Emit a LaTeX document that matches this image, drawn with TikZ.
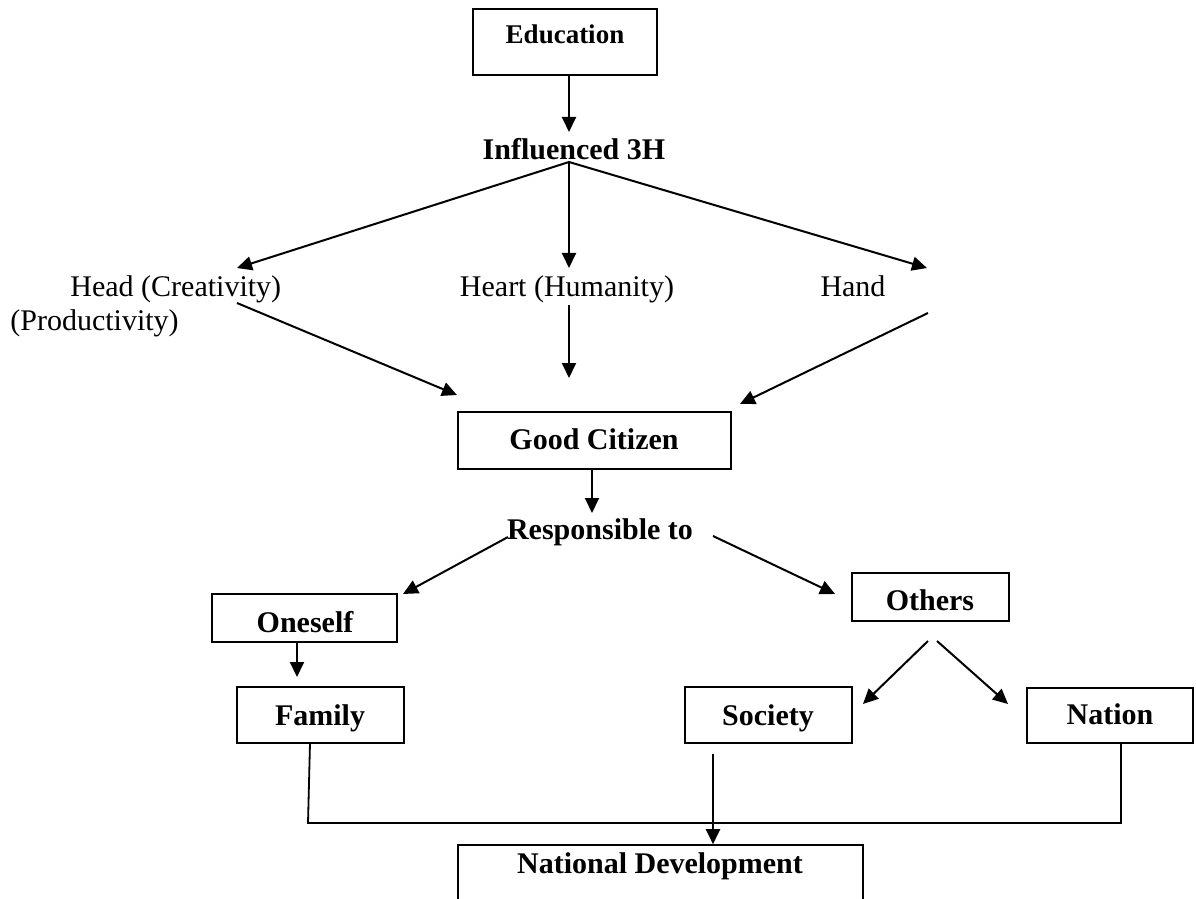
\documentclass[tikz,border=0pt]{standalone}
\usepackage{fontspec}
\setmainfont{Liberation Serif}
\usetikzlibrary{arrows.meta}
\begin{document}
\begin{tikzpicture}[x=0.5pt,y=-0.5pt,
  box/.style={draw, line width=0.8pt, inner sep=0pt},
  btxt/.style={font=\fontsize{15}{18}\selectfont\bfseries, inner sep=0pt, anchor=base},
  ntxt/.style={font=\fontsize{15}{18}\selectfont, inner sep=0pt, anchor=base},
  arr/.style={line width=1pt, -{Triangle[length=7.5pt,width=7pt]}},
  ln/.style={line width=0.9pt}]
\useasboundingbox (0,0) rectangle (1196,899);
\clip (0,0) rectangle (1196,899);

% boxes
\node[box, minimum width=92pt, minimum height=33pt] (edu) at (565,42) {};
\node[btxt, font=\fontsize{13.5}{16}\selectfont\bfseries] (edut) at (565,44) {Education};

\node[btxt] (infl) at (574,160) {Influenced 3H};

\node[ntxt, anchor=base west] (head) at (70,297) {Head (Creativity)};
\node[ntxt, anchor=base west] (prod) at (10,330) {(Productivity)};
\node[ntxt] (heart) at (567,297) {Heart (Humanity)};
\node[ntxt] (hand) at (853,297) {Hand};

\node[box, minimum width=136.5pt, minimum height=28.5pt] (gc) at (594.5,440.5) {};
\node[btxt] (gct) at (594,449) {Good Citizen};

\node[btxt] (resp) at (600,539) {Responsible to};

\node[box, minimum width=92.5pt, minimum height=24pt] (one) at (304.5,618) {};
\node[btxt] (onet) at (305,632) {Oneself};

\node[box, minimum width=83.5pt, minimum height=28pt] (fam) at (320.5,715) {};
\node[btxt] (famt) at (320,725) {Family};

\node[box, minimum width=78.5pt, minimum height=24pt] (oth) at (930.5,597) {};
\node[btxt] (otht) at (930,610) {Others};

\node[box, minimum width=83.5pt, minimum height=28pt] (soc) at (768.5,715) {};
\node[btxt] (soct) at (768,725) {Society};

\node[box, minimum width=83pt, minimum height=27.5pt] (nat) at (1110,715.5) {};
\node[btxt] (natt) at (1110,724) {Nation};

\node[box, minimum width=202.5pt, minimum height=40pt] (nd) at (660.5,885) {};
\node[btxt] (ndt) at (660,873) {National Development};

% coordinates
\coordinate (hub) at (569,162);
\coordinate (inflTop) at (569,132);
\coordinate (headTip) at (237,268);
\coordinate (heartTip) at (569,268);
\coordinate (handTip) at (927,268);
\coordinate (headOut) at (237,303);
\coordinate (heartOut) at (569,305);
\coordinate (handOut) at (928,313);
\coordinate (gcL) at (457,395);
\coordinate (gcM) at (569,378);
\coordinate (gcR) at (740,404);
\coordinate (respTop) at (592,513);
\coordinate (respL) at (508,537);
\coordinate (respR) at (713,536);
\coordinate (oneTip) at (403,594);
\coordinate (othTip) at (835,594);
\coordinate (famTip) at (297,677);
\coordinate (othL) at (928,641);
\coordinate (othR) at (937,641);
\coordinate (socTip) at (863,704);
\coordinate (natTip) at (1008,704);
\coordinate (socOut) at (713,754);
\coordinate (famOut) at (310,743);
\coordinate (joinL) at (308,823);
\coordinate (joinR) at (1121,823);

% connectors
\draw[arr] (edu.south -| hub) -- (inflTop);
\draw[arr] (hub) -- (headTip);
\draw[arr] (hub) -- (heartTip);
\draw[arr] (hub) -- (handTip);
\draw[arr] (headOut) -- (gcL);
\draw[arr] (heartOut) -- (gcM);
\draw[arr] (handOut) -- (gcR);
\draw[arr] (gc.south -| respTop) -- (respTop);
\draw[arr] (respL) -- (oneTip);
\draw[arr] (respR) -- (othTip);
\draw[arr] (one.south -| famTip) -- (famTip);
\draw[arr] (othL) -- (socTip);
\draw[arr] (othR) -- (natTip);
\draw[arr] (socOut) -- (nd.north -| socOut);
\draw[ln] (famOut) -- (joinL) -- (joinR) -- (nat.south -| joinR);
\end{tikzpicture}
\end{document}
